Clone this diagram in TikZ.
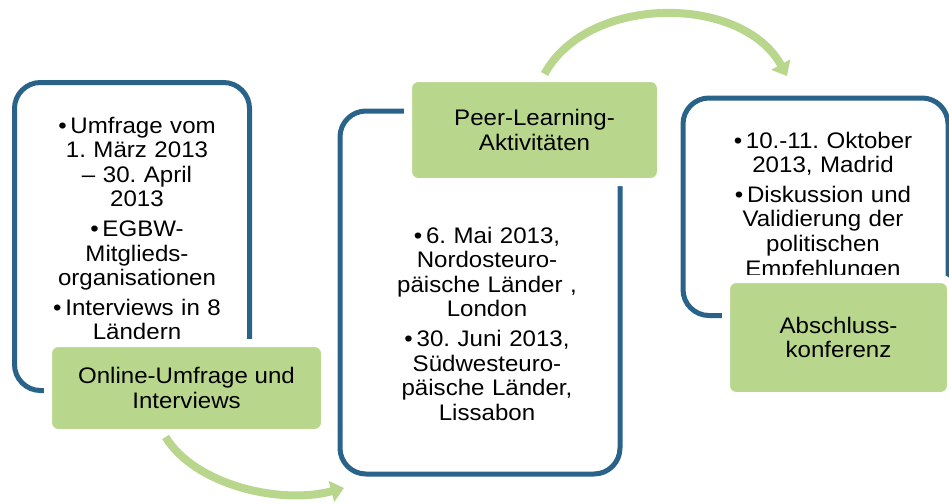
\documentclass[tikz,border=0pt]{standalone}
\usepackage{fontspec}
\setmainfont{Liberation Sans}[FakeStretch=1.07]
\usetikzlibrary{arrows.meta}
\definecolor{frameblue}{RGB}{42,99,138}
\definecolor{leafgreen}{RGB}{185,215,140}
\frenchspacing

\begin{document}
\begin{tikzpicture}[x=1pt,y=-1pt,
  panel/.style={draw=frameblue, line width=5pt, rounded corners=26pt, inner sep=0pt},
  tag/.style={fill=leafgreen, draw=white, line width=8pt, rounded corners=10pt,
    align=center, inner sep=0pt, font=\fontsize{22.5}{24.6}\selectfont},
  notes/.style={text width=215pt, align=center, anchor=base, inner sep=0pt,
    font=\fontsize{22.5}{24.6}\selectfont},
  flow/.style={draw=leafgreen, line width=8pt, -{Triangle[length=13pt,width=21pt]}}]
  \useasboundingbox (0,0) rectangle (949,503);

  % blue frames
  \node[panel, minimum width=235pt, minimum height=308pt] (box1) at (132,236.5) {};
  \node[panel, minimum width=280pt, minimum height=363pt] (box2) at (480,292.5) {};
  \node[panel, minimum width=265pt, minimum height=217.5pt] (box3) at (815.5,206.75) {};

  \node[notes] (txt1) at (137,133) {\textbullet\,Umfrage vom\\1. März 2013\\– 30. April\\2013\\[5pt]
    \textbullet\,EGBW-\\Mitglieds-\\organisationen\\[5pt]\textbullet\,Interviews in 8\\Ländern};
  \node[notes] (txt2) at (487,243) {\textbullet\,6. Mai 2013,\\Nordosteuro-\\päische Länder ,\\London\\[5pt]
    \textbullet\,30. Juni 2013,\\Südwesteuro-\\päische Länder,\\Lissabon};
  \node[notes] (txt3) at (823,148) {\textbullet\,10.-11. Oktober\\2013, Madrid\\[5pt]
    \textbullet\,Diskussion und\\Validierung der\\politischen\\Empfehlungen};

  % green labels
  \node[tag, minimum width=277pt, minimum height=90pt] (tag1) at (186.5,388) {Online-Umfrage und\\Interviews};
  \node[tag, minimum width=253pt, minimum height=104pt] (tag2) at (534.5,130) {Peer-Learning-\\Aktivitäten};
  \node[tag, minimum width=225pt, minimum height=117pt] (tag3) at (838.5,337.5) {Abschluss-\\konferenz};

  \coordinate (end1) at (344,488);
  \coordinate (end2) at (787,76);
  \draw[flow] ([xshift=-21pt]tag1.south) .. controls (195,485) and (280,505) .. (end1);
  \draw[flow] ([xshift=10pt]tag2.north) .. controls (588,-6) and (742,-6) .. (end2);
\end{tikzpicture}
\end{document}
